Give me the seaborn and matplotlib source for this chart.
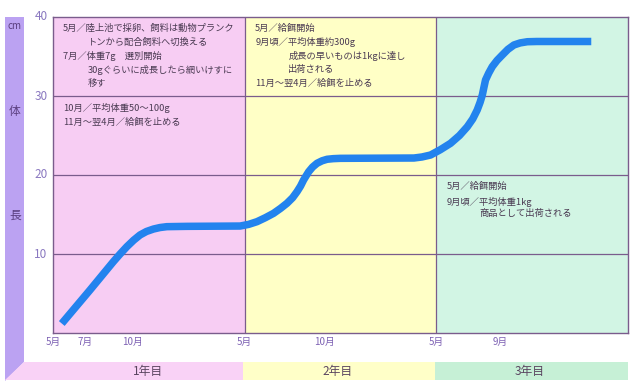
import matplotlib
matplotlib.use("Agg")
import matplotlib.pyplot as plt
from matplotlib.patches import Polygon
import seaborn as sns
import pandas as pd

# ---- data ----
months = [0.55, 2.3, 3.78, 4.2, 4.62, 5.05, 5.45, 5.85, 6.29, 6.7, 7.13, 8.38,
          11.72, 12.25, 12.77, 13.3, 13.81, 14.25, 14.65, 15.0, 15.28, 15.5, 15.69,
          15.85, 16.01, 16.25, 16.53, 16.85, 17.16, 17.55, 18.0,
          22.6, 23.1, 23.64, 24.25, 24.89, 25.45, 25.94, 26.28, 26.56, 26.74, 26.88,
          26.98, 27.08, 27.28, 27.5, 27.8, 28.13, 28.48, 28.86, 29.25, 29.7, 30.3, 33.7]
length_cm = [1.2, 5.4, 9.03, 10.0, 10.92, 11.75, 12.41, 12.85, 13.16, 13.35, 13.46, 13.5,
             13.54, 13.75, 14.09, 14.6, 15.15, 15.78, 16.42, 17.12, 17.89, 18.6, 19.37,
             19.9, 20.42, 21.0, 21.48, 21.8, 21.99, 22.07, 22.11,
             22.15, 22.28, 22.53, 23.2, 24.01, 25.0, 26.11, 27.1, 28.23, 29.2, 30.13,
             31.1, 32.03, 32.9, 33.71, 34.5, 35.19, 35.9, 36.46, 36.72, 36.87, 36.9, 36.9]
xtick_pos = [0, 2, 5, 12, 17, 24, 28]
xtick_labels = ["5月", "7月", "10月", "5月", "10月", "5月", "9月"]
ytick_pos = [10, 20, 30, 40]
year_labels = ["1年目", "2年目", "3年目"]
year_bounds = [0, 12, 24, 36]

notes_year1 = [
    (0.63, 38.6, "5月／陸上池で採卵、飼料は動物プランク"),
    (2.2, 36.8, "トンから配合飼料へ切換える"),
    (0.63, 35.1, "7月／体重7g　選別開始"),
    (2.2, 33.3, "30gぐらいに成長したら網いけすに"),
    (2.2, 31.6, "移す"),
    (0.63, 28.5, "10月／平均体重50～100g"),
    (0.63, 26.7, "11月～翌4月／給餌を止める"),
]
notes_year2 = [
    (12.66, 38.5, "5月／給餌開始"),
    (12.66, 36.8, "9月頃／平均体重約300g"),
    (14.73, 35.1, "成長の早いものは1kgに達し"),
    (14.73, 33.3, "出荷される"),
    (12.66, 31.6, "11月～翌4月／給餌を止める"),
]
notes_year3 = [
    (24.64, 18.5, "5月／給餌開始"),
    (24.64, 16.6, "9月頃／平均体重1kg"),
    (26.7, 15.1, "商品として出荷される"),
]

sns.set_theme(style="white")
plt.rcParams["font.family"] = ["Noto Sans CJK JP", "DejaVu Sans"]

W, H = 638, 389
fig = plt.figure(figsize=(W / 100, H / 100), dpi=100)
fig.patch.set_facecolor("white")

ax_l, ax_r, ax_t, ax_b = 53, 628, 17, 333
ax = fig.add_axes([ax_l / W, 1 - ax_b / H, (ax_r - ax_l) / W, (ax_b - ax_t) / H])

bg_colors = ["#F7CDF3", "#FFFFC6", "#D2F5E4"]
for i, c in enumerate(bg_colors):
    ax.axvspan(year_bounds[i], year_bounds[i + 1], color=c, lw=0, zorder=0)

grid_c = "#7A5C8C"
for y in [10, 20, 30]:
    ax.axhline(y, color=grid_c, lw=0.9, zorder=1)
for x in [12, 24]:
    ax.axvline(x, color=grid_c, lw=0.9, zorder=1)

df = pd.DataFrame({"month": months, "cm": length_cm})
sns.lineplot(data=df, x="month", y="cm", sort=False, estimator=None,
             color="#2383EE", lw=5.4, ax=ax, zorder=3)
for ln in ax.get_lines():
    if len(ln.get_xdata()) > 2:
        ln.set_solid_joinstyle("round")
        ln.set_solid_capstyle("butt")

ax.set_xlim(0, 36)
ax.set_ylim(0, 40)
ax.set_xlabel("")
ax.set_ylabel("")
for s in ax.spines.values():
    s.set_color(grid_c)
    s.set_linewidth(1.0)

tick_c = "#7E62B4"
ax.set_xticks(xtick_pos)
ax.set_xticklabels(xtick_labels, fontsize=7, color=tick_c)
ax.set_yticks(ytick_pos)
ax.set_yticklabels([str(v) for v in ytick_pos], fontsize=8.5, color="#8A78C0")
ax.tick_params(axis="both", length=0)
ax.tick_params(axis="x", pad=3)
ax.tick_params(axis="y", pad=4)
for lab in ax.get_yticklabels():
    lab.set_verticalalignment("center")

txt_c = "#4A3A52"
for notes in (notes_year1, notes_year2, notes_year3):
    for x, y, s in notes:
        ax.text(x, y, s, fontsize=6.7, color=txt_c, ha="left", va="center", zorder=4)

# decorative frame: left vertical bar and bottom year bands
def fpoly(pts, color):
    p = Polygon([(x / W, 1 - y / H) for x, y in pts], closed=True,
                transform=fig.transFigure, facecolor=color, edgecolor="none")
    fig.patches.append(p)

fpoly([(5, 17), (24, 17), (24, 362), (5, 381)], "#BBA2F2")
band_colors = ["#F9D2F6", "#FFFFC8", "#C6F0D6"]
band_x = [24, 243, 435, 628]
for i, c in enumerate(band_colors):
    if i == 0:
        fpoly([(24, 362), (band_x[1], 362), (band_x[1], 380), (5, 380)], c)
    else:
        fpoly([(band_x[i], 362), (band_x[i + 1], 362), (band_x[i + 1], 380), (band_x[i], 380)], c)

year_cx = [148, 338, 530]
for cx, s in zip(year_cx, year_labels):
    fig.text(cx / W, 1 - 371 / H, s, fontsize=8.5, color="#5A4560", ha="center", va="center")

side_c = "#5B3F80"
fig.text(15 / W, 1 - 26 / H, "cm", fontsize=7, color=side_c, ha="center", va="center")
fig.text(15 / W, 1 - 111 / H, "体", fontsize=8.5, color=side_c, ha="center", va="center")
fig.text(15 / W, 1 - 215 / H, "長", fontsize=8.5, color=side_c, ha="center", va="center")

fig.savefig("out.png", dpi=100)
